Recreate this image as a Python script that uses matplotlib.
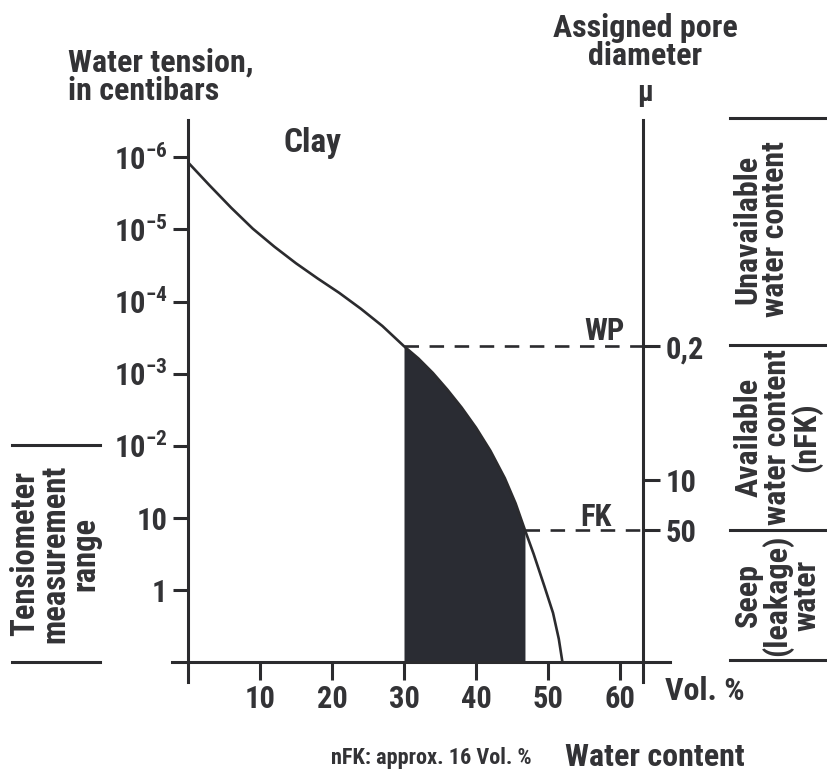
import matplotlib
matplotlib.use('Agg')
import matplotlib.pyplot as plt
from matplotlib import font_manager

# pick a narrow bold sans if one is there, the reference uses a condensed face
fams = {f.name for f in font_manager.fontManager.ttflist}
stretches = {(f.name, f.stretch) for f in font_manager.fontManager.ttflist}
FAM, STRETCH = 'Liberation Sans', 'normal'
for name in ['Liberation Sans Narrow', 'Roboto Condensed', 'Open Sans Condensed',
             'DejaVu Sans Condensed', 'Noto Sans Condensed']:
    if name in fams:
        FAM = name
        break
else:
    for name in ['Noto Sans', 'Open Sans', 'DejaVu Sans', 'Roboto']:
        if (name, 'condensed') in stretches or (name, 'semi-condensed') in stretches:
            FAM, STRETCH = name, 'condensed'
            break

plt.rcParams['font.family'] = [FAM, 'DejaVu Sans']
plt.rcParams['font.weight'] = 'bold'
plt.rcParams['font.stretch'] = STRETCH
plt.rcParams['mathtext.fontset'] = 'custom'
plt.rcParams['mathtext.bf'] = FAM + ':bold'
plt.rcParams['mathtext.rm'] = FAM + ':bold'
plt.rcParams['mathtext.default'] = 'bf'
k = 1.0 if FAM != 'Liberation Sans' else 0.85
FS_TICK = 22 * k
FS = 23 * k

INK = '#2b2b2e'
TXT = '#333336'

# Retention curve for clay (water content in Vol. %, tension step index)
vol = [0, 3, 6, 9, 12, 15, 18, 21, 24, 27, 30, 32, 34, 36, 38, 40, 42, 44, 45.5, 46.8,
       48, 49.5, 50.7, 51.5, 52.0]
tension = [6.93, 6.61, 6.30, 6.01, 5.76, 5.53, 5.32, 5.12, 4.90, 4.66, 4.38, 4.21, 4.01,
           3.78, 3.53, 3.25, 2.93, 2.55, 2.20, 1.83, 1.50, 1.05, 0.68, 0.32, 0.0]

# left axis: water tension (centibars)
tension_ticks = [1, 2, 3, 4, 5, 6, 7]
tension_labels = ['1', '10', r'$10^{-2}$', r'$10^{-3}$', r'$10^{-4}$', r'$10^{-5}$', r'$10^{-6}$']
# right axis: assigned pore diameter (µ)
pore_ticks = [4.38, 2.52, 1.83]
pore_labels = ['0,2', '10', '50']
vol_ticks = [10, 20, 30, 40, 50, 60]

wp_idx, fk_idx = 10, 19   # wilting point and field capacity in the arrays
right_axis_x = 63.2

W, H = 827, 771
fig = plt.figure(figsize=(W / 100, H / 100), dpi=100)

def fx(px):
    return px / W

def fy(py):
    return 1 - py / H

# axes placed so that vol 0 -> px 188, 7.2 px per Vol.%, tension step 72.1 px
x0, x1 = -2.5, 67.0
y0, y1 = -0.3, 7.55
left_px, right_px = 188 + 7.2 * x0, 188 + 7.2 * x1
bot_px, top_px = 662 - 72.1 * y0, 662 - 72.1 * y1
ax = fig.add_axes([fx(left_px), fy(bot_px), (right_px - left_px) / W, (bot_px - top_px) / H])
ax.set_xlim(x0, x1)
ax.set_ylim(y0, y1)
ax.patch.set_visible(False)

lw_axis = 2.2
ax.spines['top'].set_visible(False)
ax.spines['right'].set_visible(False)
ax.spines['left'].set_position(('data', 0))
ax.spines['bottom'].set_position(('data', 0))
ax.spines['left'].set_bounds(-0.28, 7.52)
ax.spines['bottom'].set_bounds(-2.2, 67)
for s in ['left', 'bottom']:
    ax.spines[s].set_linewidth(lw_axis)
    ax.spines[s].set_color(INK)

ax.set_yticks(tension_ticks)
ax.set_yticklabels(tension_labels)
ax.set_xticks(vol_ticks)
ax.set_xticklabels([str(v) for v in vol_ticks])
ax.tick_params(axis='y', direction='out', length=11, width=lw_axis, color=INK,
               labelsize=FS_TICK, labelcolor=TXT, pad=4)
ax.tick_params(axis='x', direction='out', length=13, width=lw_axis, color=INK,
               labelsize=FS_TICK, labelcolor=TXT, pad=3)

# right axis
ax2 = ax.twinx()
ax2.set_ylim(y0, y1)
for s in ['top', 'left', 'bottom']:
    ax2.spines[s].set_visible(False)
ax2.spines['right'].set_position(('data', right_axis_x))
ax2.spines['right'].set_bounds(-0.28, 7.52)
ax2.spines['right'].set_linewidth(lw_axis)
ax2.spines['right'].set_color(INK)
ax2.set_yticks(pore_ticks)
ax2.set_yticklabels(pore_labels)
ax2.tick_params(axis='y', direction='out', length=12, width=lw_axis, color=INK,
                labelsize=FS_TICK, labelcolor=TXT, pad=4)

# shaded available water between WP and FK
ax.fill_between(vol[wp_idx:fk_idx + 1], tension[wp_idx:fk_idx + 1], 0,
                color='#2a2c33', linewidth=0, zorder=2)
ax.plot(vol, tension, color=INK, lw=1.9, zorder=3, solid_capstyle='butt')

# WP / FK dashed levels
for i in (wp_idx, fk_idx):
    ax.plot([vol[i], right_axis_x], [tension[i], tension[i]], color=INK, lw=1.9,
            dashes=(5.5, 4), zorder=3)
ax.text(60.7, tension[wp_idx] + 0.09, 'WP', ha='right', va='baseline', fontsize=FS_TICK, color=TXT)
ax.text(58.9, tension[fk_idx] + 0.05, 'FK', ha='right', va='baseline', fontsize=FS_TICK, color=TXT)
ax.text(13.2, 7.2, 'Clay', ha='left', va='center', fontsize=FS + 1, color=TXT)

# headings
fig.text(fx(68), fy(77), 'Water tension,\nin centibars', ha='left', va='center',
         fontsize=FS, color=TXT, linespacing=0.95)
fig.text(fx(645), fy(42), 'Assigned pore\ndiameter', ha='center', va='center',
         fontsize=FS, color=TXT, linespacing=0.95)
fig.text(fx(645), fy(101), 'μ', ha='center', va='baseline', fontsize=FS * 0.9, color=TXT)
fig.text(fx(665), fy(691), 'Vol. %', ha='left', va='center', fontsize=FS, color=TXT)
fig.text(fx(745), fy(757), 'Water content', ha='right', va='center', fontsize=FS, color=TXT)
fig.text(fx(532), fy(758), 'nFK: approx. 16 Vol. %', ha='right', va='center',
         fontsize=16 * k, color=TXT)

# right-hand classification of water content
for py in (118, 345, 530, 660):
    fig.add_artist(plt.Line2D([fx(730), fx(827)], [fy(py), fy(py)], color=INK, lw=lw_axis))
fig.text(fx(761), fy(229), 'Unavailable\nwater content', rotation=90, ha='center', va='center',
         fontsize=FS, color=TXT, linespacing=0.92, multialignment='center')
fig.text(fx(778), fy(437), 'Available\nwater content\n(nFK)', rotation=90, ha='center', va='center',
         fontsize=FS, color=TXT, linespacing=0.92, multialignment='center')
fig.text(fx(777), fy(595), 'Seep\n(leakage)\nwater', rotation=90, ha='center', va='center',
         fontsize=FS, color=TXT, linespacing=0.92, multialignment='center')

# tensiometer range bracket on the left
for py in (445, 662):
    fig.add_artist(plt.Line2D([fx(12), fx(100)], [fy(py), fy(py)], color=INK, lw=lw_axis))
fig.text(fx(55), fy(554), 'Tensiometer\nmeasurement\nrange', rotation=90, ha='center', va='center',
         fontsize=FS + 0.5, color=TXT, linespacing=0.92, multialignment='center')

fig.savefig('out.png', dpi=100)
